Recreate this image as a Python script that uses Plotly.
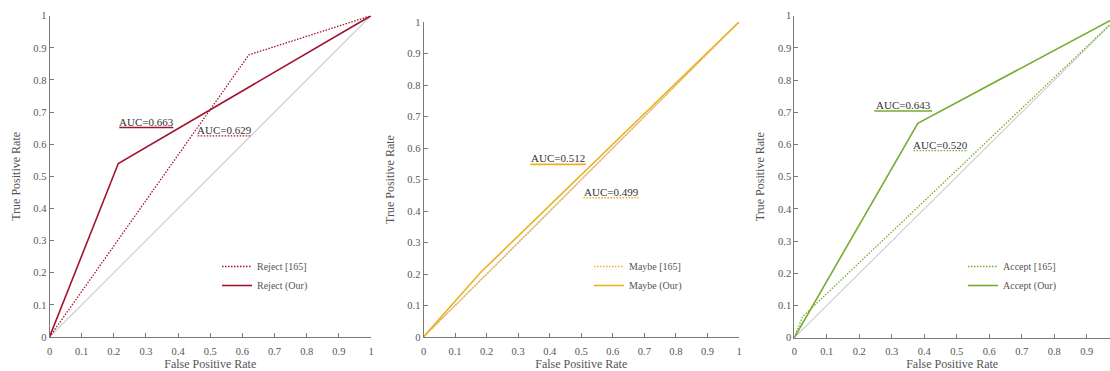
import numpy as np
import plotly.graph_objects as go

# ROC operating points (false positive rate, true positive rate)
reject_base_fpr = [0.0, 0.62, 1.0]
reject_base_tpr = [0.0, 0.878, 1.0]
reject_our_fpr = [0.0, 0.214, 1.0]
reject_our_tpr = [0.0, 0.54, 1.0]

maybe_base_fpr = [0.0, 0.3, 1.0]
maybe_base_tpr = [0.0, 0.298, 1.0]
maybe_our_fpr = [0.0, 0.18, 1.0]
maybe_our_tpr = [0.0, 0.204, 1.0]

accept_base_fpr = [0.0, 0.025, 1.0]
accept_base_tpr = [0.0, 0.065, 1.0]
accept_our_fpr = [0.0, 0.38, 1.0]
accept_our_tpr = [0.0, 0.666, 1.0]

tick_values = [round(0.1 * i, 1) for i in range(11)]
tick_labels = ["0", "0.1", "0.2", "0.3", "0.4", "0.5", "0.6", "0.7", "0.8", "0.9", "1"]

FONT = "Liberation Serif"
AXIS_COLOR = "#7a7a7a"
TEXT_COLOR = "#555555"
DIAG_COLOR = "#cccccc"
DOT = "1.5px,1.5px"

panels = [
    dict(name="Reject", color="#A2142F",
         base=(reject_base_fpr, reject_base_tpr), our=(reject_our_fpr, reject_our_tpr),
         xdomain=[49.5 / 1110, 371 / 1110], ydomain=[34 / 371, 355.3 / 371], xmax=1.0,
         our_label=(0.217, 0.385, 0.652), base_label=(0.461, 0.629, 0.626),
         legend_x=217 / 1110),
    dict(name="Maybe", color="#EDB120",
         base=(maybe_base_fpr, maybe_base_tpr), our=(maybe_our_fpr, maybe_our_tpr),
         xdomain=[423.5 / 1110, 739 / 1110], ydomain=[34 / 371, 349 / 371], xmax=1.0,
         our_label=(0.339, 0.515, 0.548), base_label=(0.507, 0.682, 0.442),
         legend_x=589 / 1110),
    dict(name="Accept", color="#77AC30",
         base=(accept_base_fpr, accept_base_tpr), our=(accept_our_fpr, accept_our_tpr),
         xdomain=[794.3 / 1110, 1.0], ydomain=[33.3 / 371, 355.3 / 371], xmax=0.9714,
         our_label=(0.246, 0.424, 0.704), base_label=(0.367, 0.534, 0.581),
         legend_x=963 / 1110),
]

fig = go.Figure()
shapes = []
annotations = []

for i, p in enumerate(panels):
    k = "" if i == 0 else str(i + 1)
    xa, ya = "x" + k, "y" + k
    leg = "legend" + k

    # chance diagonal
    fig.add_trace(go.Scatter(x=[0, 1], y=[0, 1], mode="lines", xaxis=xa, yaxis=ya,
                             line=dict(color=DIAG_COLOR, width=1.1), showlegend=False,
                             hoverinfo="skip"))
    fig.add_trace(go.Scatter(x=p["base"][0], y=p["base"][1], mode="lines",
                             xaxis=xa, yaxis=ya, legend=leg,
                             name=f"{p['name']} [165]",
                             line=dict(color=p["color"], width=1.3, dash=DOT)))
    fig.add_trace(go.Scatter(x=p["our"][0], y=p["our"][1], mode="lines",
                             xaxis=xa, yaxis=ya, legend=leg,
                             name=f"{p['name']} (Our)",
                             line=dict(color=p["color"], width=1.6)))

    axis_common = dict(showgrid=False, zeroline=False, showline=True,
                       linecolor=AXIS_COLOR, linewidth=1, ticks="inside",
                       ticklen=4, tickcolor=AXIS_COLOR, tickvals=tick_values,
                       ticktext=tick_labels, automargin=False,
                       tickfont=dict(family=FONT, size=10.5, color=TEXT_COLOR))
    fig.layout["xaxis" + k] = dict(
        axis_common, domain=p["xdomain"], range=[0, p["xmax"]], anchor=ya,
        ticklabelstandoff=4,
        title=dict(text="False Positive Rate", standoff=13,
                   font=dict(family=FONT, size=12, color=TEXT_COLOR)))
    fig.layout["yaxis" + k] = dict(
        axis_common, domain=p["ydomain"], range=[0, 1], anchor=xa,
        title=dict(text="True Positive Rate", standoff=10,
                   font=dict(family=FONT, size=12, color=TEXT_COLOR)))

    fig.layout[leg] = dict(x=p["legend_x"], y=1 - 252 / 371, xanchor="left",
                           yanchor="top", bgcolor="rgba(0,0,0,0)",
                           font=dict(family=FONT, size=10, color=TEXT_COLOR),
                           itemwidth=30)

    # AUC labels with an underline in the curve's line style
    for curve, label, dash, width in ((p["our"], p["our_label"], "solid", 1.6),
                                      (p["base"], p["base_label"], DOT, 1.3)):
        auc = np.trapezoid(curve[1], curve[0])
        x0, x1, yl = label
        shapes.append(dict(type="line", xref=xa, yref=ya, x0=x0, x1=x1, y0=yl, y1=yl,
                           line=dict(color=p["color"], width=width, dash=dash)))
        annotations.append(dict(xref=xa, yref=ya, x=(x0 + x1) / 2, y=yl,
                                text=f"AUC={auc:.3f}", showarrow=False,
                                xanchor="center", yanchor="middle", yshift=6,
                                font=dict(family=FONT, size=11, color="#333333")))

fig.update_layout(width=1110, height=371, margin=dict(l=0, r=0, t=0, b=0),
                  paper_bgcolor="white", plot_bgcolor="white",
                  shapes=shapes, annotations=annotations)

fig.write_html("out.html")
